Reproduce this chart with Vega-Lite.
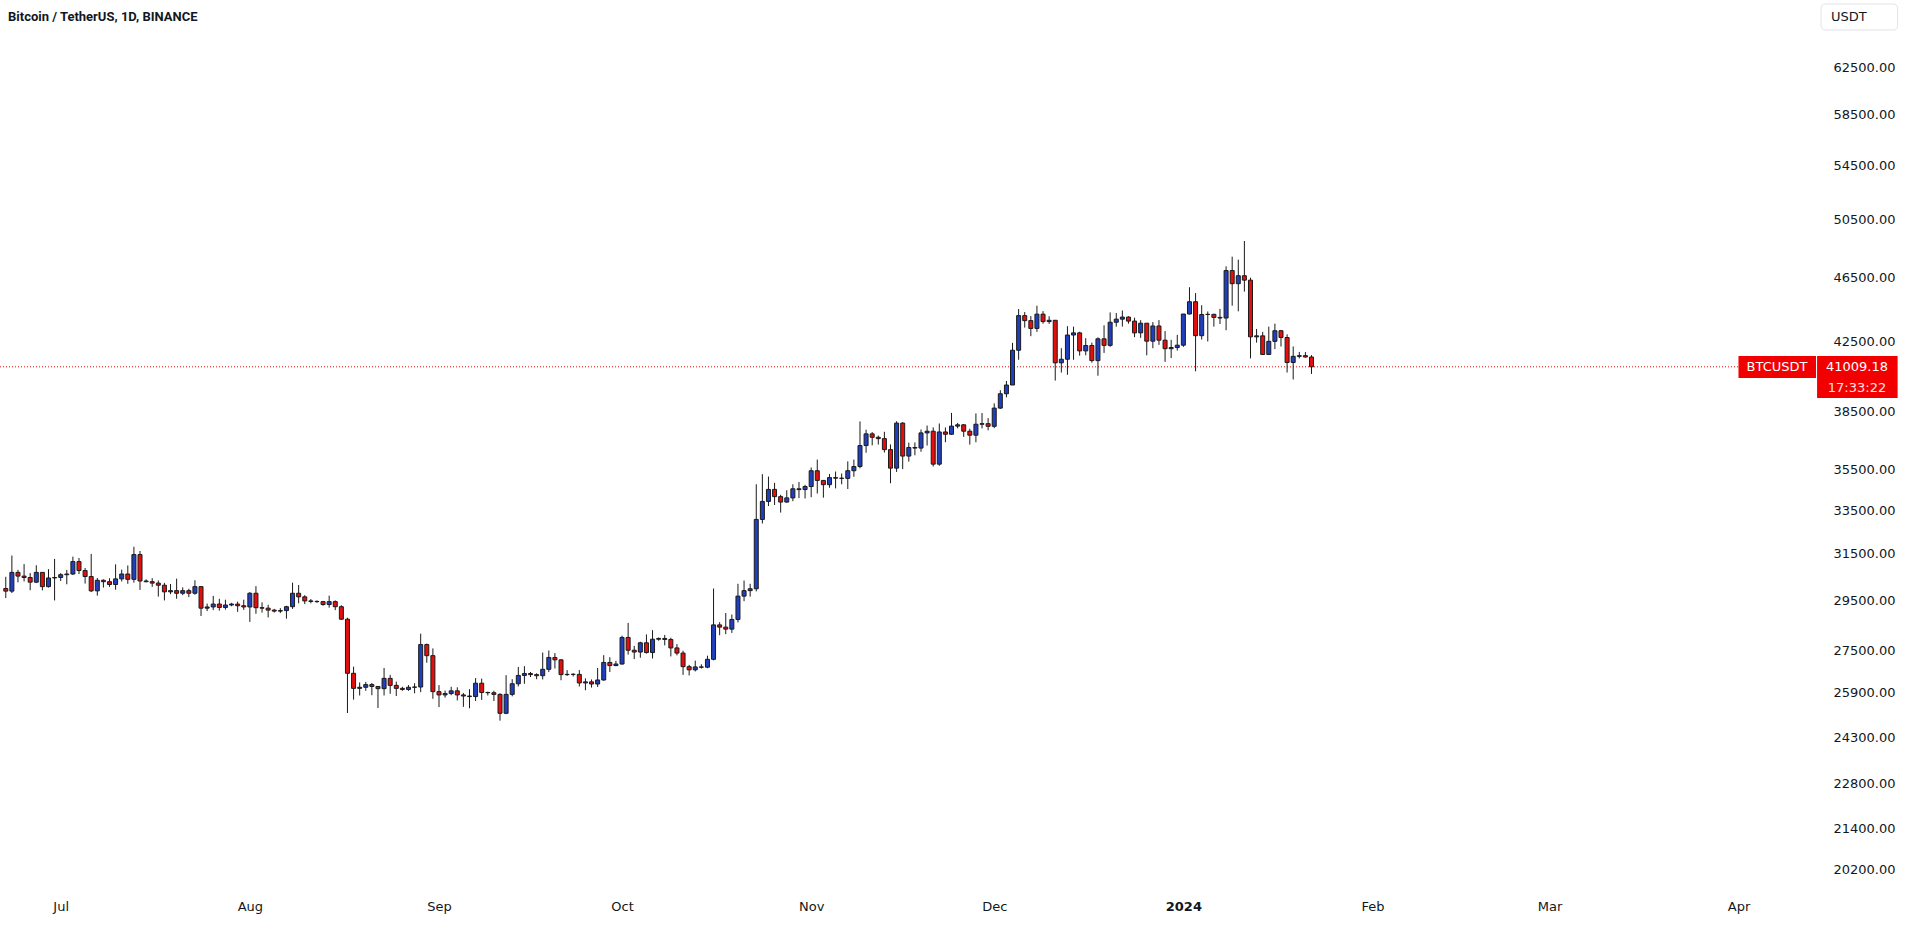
{
  "$schema": "https://vega.github.io/schema/vega-lite/v6.json",
  "width": 1825,
  "height": 886,
  "autosize": {"type": "none"},
  "padding": {"left": 0, "top": 0, "right": 83, "bottom": 40},
  "background": "#ffffff",
  "config": {"view": {"stroke": null}, "font": "DejaVu Sans"},
  "title": {"text": "Bitcoin / TetherUS, 1D, BINANCE", "anchor": "start", "frame": "group", "offset": -24, "dx": 8, "fontSize": 13, "fontWeight": "bold", "color": "#131722", "font": "Roboto"},
  "datasets": {
    "candles": [
      {"t":"2023-06-22","o":30000,"h":30500,"l":29600,"c":29890},
      {"t":"2023-06-23","o":29890,"h":31430,"l":29810,"c":30690},
      {"t":"2023-06-24","o":30690,"h":30800,"l":30260,"c":30530},
      {"t":"2023-06-25","o":30530,"h":31050,"l":30300,"c":30470},
      {"t":"2023-06-26","o":30470,"h":30660,"l":29930,"c":30270},
      {"t":"2023-06-27","o":30270,"h":31000,"l":30230,"c":30690},
      {"t":"2023-06-28","o":30690,"h":30700,"l":29920,"c":30080},
      {"t":"2023-06-29","o":30080,"h":30830,"l":30040,"c":30450},
      {"t":"2023-06-30","o":30450,"h":31280,"l":29500,"c":30470},
      {"t":"2023-07-01","o":30470,"h":30660,"l":30320,"c":30590},
      {"t":"2023-07-02","o":30590,"h":30800,"l":30180,"c":30620},
      {"t":"2023-07-03","o":30620,"h":31380,"l":30580,"c":31160},
      {"t":"2023-07-04","o":31160,"h":31320,"l":30620,"c":30770},
      {"t":"2023-07-05","o":30770,"h":30880,"l":30210,"c":30510},
      {"t":"2023-07-06","o":30510,"h":31500,"l":29850,"c":29900},
      {"t":"2023-07-07","o":29900,"h":30450,"l":29700,"c":30350},
      {"t":"2023-07-08","o":30350,"h":30390,"l":30040,"c":30290},
      {"t":"2023-07-09","o":30290,"h":30440,"l":30070,"c":30170},
      {"t":"2023-07-10","o":30170,"h":31040,"l":29950,"c":30410},
      {"t":"2023-07-11","o":30410,"h":30810,"l":30300,"c":30620},
      {"t":"2023-07-12","o":30620,"h":30990,"l":30200,"c":30390},
      {"t":"2023-07-13","o":30390,"h":31820,"l":30250,"c":31470},
      {"t":"2023-07-14","o":31470,"h":31630,"l":29940,"c":30320},
      {"t":"2023-07-15","o":30320,"h":30390,"l":30260,"c":30290},
      {"t":"2023-07-16","o":30290,"h":30440,"l":30070,"c":30230},
      {"t":"2023-07-17","o":30230,"h":30340,"l":29660,"c":30140},
      {"t":"2023-07-18","o":30140,"h":30240,"l":29500,"c":29860},
      {"t":"2023-07-19","o":29860,"h":30190,"l":29760,"c":29910},
      {"t":"2023-07-20","o":29910,"h":30420,"l":29570,"c":29800},
      {"t":"2023-07-21","o":29800,"h":30050,"l":29720,"c":29910},
      {"t":"2023-07-22","o":29910,"h":29990,"l":29640,"c":29800},
      {"t":"2023-07-23","o":29800,"h":30350,"l":29740,"c":30080},
      {"t":"2023-07-24","o":30080,"h":30100,"l":28860,"c":29180},
      {"t":"2023-07-25","o":29180,"h":29370,"l":29060,"c":29230},
      {"t":"2023-07-26","o":29230,"h":29690,"l":29100,"c":29350},
      {"t":"2023-07-27","o":29350,"h":29570,"l":29080,"c":29210},
      {"t":"2023-07-28","o":29210,"h":29530,"l":29120,"c":29310},
      {"t":"2023-07-29","o":29310,"h":29400,"l":29260,"c":29350},
      {"t":"2023-07-30","o":29350,"h":29450,"l":29030,"c":29280},
      {"t":"2023-07-31","o":29280,"h":29530,"l":29110,"c":29230},
      {"t":"2023-08-01","o":29230,"h":29850,"l":28620,"c":29800},
      {"t":"2023-08-02","o":29800,"h":30100,"l":28950,"c":29200},
      {"t":"2023-08-03","o":29200,"h":29420,"l":29000,"c":29180},
      {"t":"2023-08-04","o":29180,"h":29320,"l":28800,"c":29100},
      {"t":"2023-08-05","o":29100,"h":29150,"l":29000,"c":29060},
      {"t":"2023-08-06","o":29060,"h":29180,"l":28980,"c":29080},
      {"t":"2023-08-07","o":29080,"h":29280,"l":28750,"c":29240},
      {"t":"2023-08-08","o":29240,"h":30250,"l":29150,"c":29800},
      {"t":"2023-08-09","o":29800,"h":30150,"l":29380,"c":29650},
      {"t":"2023-08-10","o":29650,"h":29720,"l":29350,"c":29480},
      {"t":"2023-08-11","o":29480,"h":29560,"l":29380,"c":29460},
      {"t":"2023-08-12","o":29460,"h":29500,"l":29400,"c":29450},
      {"t":"2023-08-13","o":29450,"h":29480,"l":29280,"c":29330},
      {"t":"2023-08-14","o":29330,"h":29700,"l":29200,"c":29450},
      {"t":"2023-08-15","o":29450,"h":29500,"l":29100,"c":29240},
      {"t":"2023-08-16","o":29240,"h":29300,"l":28700,"c":28730},
      {"t":"2023-08-17","o":28730,"h":28790,"l":25170,"c":26620},
      {"t":"2023-08-18","o":26620,"h":26870,"l":25650,"c":26060},
      {"t":"2023-08-19","o":26060,"h":26280,"l":25800,"c":26100},
      {"t":"2023-08-20","o":26100,"h":26300,"l":25970,"c":26200},
      {"t":"2023-08-21","o":26200,"h":26260,"l":25810,"c":26130},
      {"t":"2023-08-22","o":26130,"h":26140,"l":25350,"c":26050},
      {"t":"2023-08-23","o":26050,"h":26820,"l":25800,"c":26430},
      {"t":"2023-08-24","o":26430,"h":26560,"l":25860,"c":26170},
      {"t":"2023-08-25","o":26170,"h":26310,"l":25780,"c":26060},
      {"t":"2023-08-26","o":26060,"h":26120,"l":25970,"c":26020},
      {"t":"2023-08-27","o":26020,"h":26180,"l":25970,"c":26100},
      {"t":"2023-08-28","o":26100,"h":26250,"l":25880,"c":26110},
      {"t":"2023-08-29","o":26110,"h":28150,"l":25920,"c":27720},
      {"t":"2023-08-30","o":27720,"h":27760,"l":27020,"c":27290},
      {"t":"2023-08-31","o":27290,"h":27570,"l":25680,"c":25940},
      {"t":"2023-09-01","o":25940,"h":26180,"l":25380,"c":25820},
      {"t":"2023-09-02","o":25820,"h":25980,"l":25720,"c":25870},
      {"t":"2023-09-03","o":25870,"h":26120,"l":25810,"c":25970},
      {"t":"2023-09-04","o":25970,"h":26100,"l":25620,"c":25820},
      {"t":"2023-09-05","o":25820,"h":25890,"l":25390,"c":25780},
      {"t":"2023-09-06","o":25780,"h":26030,"l":25340,"c":25760},
      {"t":"2023-09-07","o":25760,"h":26440,"l":25600,"c":26250},
      {"t":"2023-09-08","o":26250,"h":26420,"l":25640,"c":25910},
      {"t":"2023-09-09","o":25910,"h":25940,"l":25800,"c":25900},
      {"t":"2023-09-10","o":25900,"h":25970,"l":25600,"c":25840},
      {"t":"2023-09-11","o":25840,"h":25880,"l":24900,"c":25160},
      {"t":"2023-09-12","o":25160,"h":26550,"l":25130,"c":25840},
      {"t":"2023-09-13","o":25840,"h":26400,"l":25770,"c":26230},
      {"t":"2023-09-14","o":26230,"h":26860,"l":26130,"c":26540},
      {"t":"2023-09-15","o":26540,"h":26890,"l":26230,"c":26610},
      {"t":"2023-09-16","o":26610,"h":26670,"l":26480,"c":26570},
      {"t":"2023-09-17","o":26570,"h":26620,"l":26400,"c":26530},
      {"t":"2023-09-18","o":26530,"h":27410,"l":26390,"c":26770},
      {"t":"2023-09-19","o":26770,"h":27490,"l":26670,"c":27220},
      {"t":"2023-09-20","o":27220,"h":27390,"l":26800,"c":27130},
      {"t":"2023-09-21","o":27130,"h":27160,"l":26360,"c":26570},
      {"t":"2023-09-22","o":26570,"h":26740,"l":26520,"c":26580},
      {"t":"2023-09-23","o":26580,"h":26620,"l":26500,"c":26580},
      {"t":"2023-09-24","o":26580,"h":26740,"l":26130,"c":26260},
      {"t":"2023-09-25","o":26260,"h":26430,"l":25990,"c":26300},
      {"t":"2023-09-26","o":26300,"h":26390,"l":26090,"c":26220},
      {"t":"2023-09-27","o":26220,"h":26820,"l":26110,"c":26370},
      {"t":"2023-09-28","o":26370,"h":27310,"l":26340,"c":27030},
      {"t":"2023-09-29","o":27030,"h":27230,"l":26670,"c":26910},
      {"t":"2023-09-30","o":26910,"h":27090,"l":26890,"c":26970},
      {"t":"2023-10-01","o":26970,"h":28070,"l":26950,"c":28000},
      {"t":"2023-10-02","o":28000,"h":28580,"l":27330,"c":27500},
      {"t":"2023-10-03","o":27500,"h":27670,"l":27160,"c":27430},
      {"t":"2023-10-04","o":27430,"h":27830,"l":27210,"c":27790},
      {"t":"2023-10-05","o":27790,"h":28120,"l":27370,"c":27410},
      {"t":"2023-10-06","o":27410,"h":28290,"l":27180,"c":27930},
      {"t":"2023-10-07","o":27930,"h":28000,"l":27870,"c":27960},
      {"t":"2023-10-08","o":27960,"h":28100,"l":27690,"c":27920},
      {"t":"2023-10-09","o":27920,"h":27990,"l":27260,"c":27590},
      {"t":"2023-10-10","o":27590,"h":27740,"l":27300,"c":27390},
      {"t":"2023-10-11","o":27390,"h":27480,"l":26560,"c":26870},
      {"t":"2023-10-12","o":26870,"h":26940,"l":26540,"c":26750},
      {"t":"2023-10-13","o":26750,"h":27100,"l":26690,"c":26860},
      {"t":"2023-10-14","o":26860,"h":26960,"l":26800,"c":26850},
      {"t":"2023-10-15","o":26850,"h":27290,"l":26810,"c":27150},
      {"t":"2023-10-16","o":27150,"h":30000,"l":27110,"c":28500},
      {"t":"2023-10-17","o":28500,"h":28610,"l":28090,"c":28410},
      {"t":"2023-10-18","o":28410,"h":28980,"l":28130,"c":28330},
      {"t":"2023-10-19","o":28330,"h":28920,"l":28180,"c":28720},
      {"t":"2023-10-20","o":28720,"h":30200,"l":28600,"c":29680},
      {"t":"2023-10-21","o":29680,"h":30340,"l":29470,"c":29910},
      {"t":"2023-10-22","o":29910,"h":30200,"l":29660,"c":29990},
      {"t":"2023-10-23","o":29990,"h":34750,"l":29880,"c":33070},
      {"t":"2023-10-24","o":33070,"h":35250,"l":32880,"c":33920},
      {"t":"2023-10-25","o":33920,"h":35130,"l":33700,"c":34500},
      {"t":"2023-10-26","o":34500,"h":34820,"l":33750,"c":34150},
      {"t":"2023-10-27","o":34150,"h":34240,"l":33390,"c":33890},
      {"t":"2023-10-28","o":33890,"h":34460,"l":33860,"c":34090},
      {"t":"2023-10-29","o":34090,"h":34750,"l":33930,"c":34530},
      {"t":"2023-10-30","o":34530,"h":34860,"l":34080,"c":34490},
      {"t":"2023-10-31","o":34490,"h":34720,"l":34060,"c":34640},
      {"t":"2023-11-01","o":34640,"h":35580,"l":34120,"c":35420},
      {"t":"2023-11-02","o":35420,"h":35980,"l":34300,"c":34940},
      {"t":"2023-11-03","o":34940,"h":34950,"l":34100,"c":34730},
      {"t":"2023-11-04","o":34730,"h":35260,"l":34580,"c":35080},
      {"t":"2023-11-05","o":35080,"h":35380,"l":34550,"c":35050},
      {"t":"2023-11-06","o":35050,"h":35280,"l":34750,"c":35040},
      {"t":"2023-11-07","o":35040,"h":35890,"l":34520,"c":35420},
      {"t":"2023-11-08","o":35420,"h":35980,"l":35120,"c":35630},
      {"t":"2023-11-09","o":35630,"h":37970,"l":35540,"c":36700},
      {"t":"2023-11-10","o":36700,"h":37530,"l":36330,"c":37310},
      {"t":"2023-11-11","o":37310,"h":37400,"l":36710,"c":37130},
      {"t":"2023-11-12","o":37130,"h":37220,"l":36750,"c":37060},
      {"t":"2023-11-13","o":37060,"h":37420,"l":36340,"c":36490},
      {"t":"2023-11-14","o":36490,"h":36760,"l":34800,"c":35550},
      {"t":"2023-11-15","o":35550,"h":37980,"l":35360,"c":37880},
      {"t":"2023-11-16","o":37880,"h":37930,"l":35500,"c":36160},
      {"t":"2023-11-17","o":36160,"h":36850,"l":35880,"c":36600},
      {"t":"2023-11-18","o":36600,"h":36860,"l":36200,"c":36570},
      {"t":"2023-11-19","o":36570,"h":37540,"l":36380,"c":37360},
      {"t":"2023-11-20","o":37360,"h":37750,"l":36700,"c":37450},
      {"t":"2023-11-21","o":37450,"h":37650,"l":35630,"c":35750},
      {"t":"2023-11-22","o":35750,"h":37860,"l":35670,"c":37410},
      {"t":"2023-11-23","o":37410,"h":37650,"l":36870,"c":37290},
      {"t":"2023-11-24","o":37290,"h":38430,"l":37250,"c":37720},
      {"t":"2023-11-25","o":37720,"h":37890,"l":37600,"c":37790},
      {"t":"2023-11-26","o":37790,"h":37830,"l":37150,"c":37450},
      {"t":"2023-11-27","o":37450,"h":37580,"l":36750,"c":37240},
      {"t":"2023-11-28","o":37240,"h":38400,"l":36870,"c":37820},
      {"t":"2023-11-29","o":37820,"h":38420,"l":37600,"c":37850},
      {"t":"2023-11-30","o":37850,"h":38150,"l":37500,"c":37710},
      {"t":"2023-12-01","o":37710,"h":38950,"l":37610,"c":38690},
      {"t":"2023-12-02","o":38690,"h":39680,"l":38650,"c":39480},
      {"t":"2023-12-03","o":39480,"h":40200,"l":39280,"c":39970},
      {"t":"2023-12-04","o":39970,"h":42420,"l":39970,"c":41980},
      {"t":"2023-12-05","o":41980,"h":44490,"l":41420,"c":44080},
      {"t":"2023-12-06","o":44080,"h":44300,"l":43340,"c":43770},
      {"t":"2023-12-07","o":43770,"h":44050,"l":42820,"c":43290},
      {"t":"2023-12-08","o":43290,"h":44700,"l":43080,"c":44170},
      {"t":"2023-12-09","o":44170,"h":44360,"l":43580,"c":43710},
      {"t":"2023-12-10","o":43710,"h":44040,"l":43570,"c":43790},
      {"t":"2023-12-11","o":43790,"h":43810,"l":40220,"c":41240},
      {"t":"2023-12-12","o":41240,"h":42100,"l":40680,"c":41450},
      {"t":"2023-12-13","o":41450,"h":43430,"l":40550,"c":42890},
      {"t":"2023-12-14","o":42890,"h":43400,"l":41420,"c":43020},
      {"t":"2023-12-15","o":43020,"h":43090,"l":41660,"c":41940},
      {"t":"2023-12-16","o":41940,"h":42700,"l":41680,"c":42260},
      {"t":"2023-12-17","o":42260,"h":42430,"l":41250,"c":41370},
      {"t":"2023-12-18","o":41370,"h":42750,"l":40500,"c":42660},
      {"t":"2023-12-19","o":42660,"h":43480,"l":41820,"c":42270},
      {"t":"2023-12-20","o":42270,"h":44280,"l":42180,"c":43670},
      {"t":"2023-12-21","o":43670,"h":44240,"l":43400,"c":43860},
      {"t":"2023-12-22","o":43860,"h":44400,"l":43400,"c":43990},
      {"t":"2023-12-23","o":43990,"h":44040,"l":43580,"c":43740},
      {"t":"2023-12-24","o":43740,"h":43950,"l":42760,"c":43020},
      {"t":"2023-12-25","o":43020,"h":43800,"l":42720,"c":43610},
      {"t":"2023-12-26","o":43610,"h":43610,"l":41680,"c":42520},
      {"t":"2023-12-27","o":42520,"h":43680,"l":42100,"c":43440},
      {"t":"2023-12-28","o":43440,"h":43800,"l":42300,"c":42580},
      {"t":"2023-12-29","o":42580,"h":43130,"l":41300,"c":42070},
      {"t":"2023-12-30","o":42070,"h":42600,"l":41520,"c":42140},
      {"t":"2023-12-31","o":42140,"h":42900,"l":41960,"c":42280},
      {"t":"2024-01-01","o":42280,"h":44180,"l":42180,"c":44180},
      {"t":"2024-01-02","o":44180,"h":45880,"l":44150,"c":44950},
      {"t":"2024-01-03","o":44950,"h":45500,"l":40750,"c":42850},
      {"t":"2024-01-04","o":42850,"h":44730,"l":42620,"c":44150},
      {"t":"2024-01-05","o":44150,"h":44340,"l":42500,"c":44160},
      {"t":"2024-01-06","o":44160,"h":44190,"l":43400,"c":43970},
      {"t":"2024-01-07","o":43970,"h":44500,"l":43560,"c":43930},
      {"t":"2024-01-08","o":43930,"h":47250,"l":43180,"c":46970},
      {"t":"2024-01-09","o":46970,"h":47900,"l":44700,"c":46110},
      {"t":"2024-01-10","o":46110,"h":47700,"l":44350,"c":46630},
      {"t":"2024-01-11","o":46630,"h":48970,"l":45600,"c":46340},
      {"t":"2024-01-12","o":46340,"h":46500,"l":41500,"c":42780},
      {"t":"2024-01-13","o":42780,"h":43260,"l":42430,"c":42840},
      {"t":"2024-01-14","o":42840,"h":43080,"l":41720,"c":41730},
      {"t":"2024-01-15","o":41730,"h":43400,"l":41720,"c":42510},
      {"t":"2024-01-16","o":42510,"h":43580,"l":42050,"c":43150},
      {"t":"2024-01-17","o":43150,"h":43200,"l":42200,"c":42740},
      {"t":"2024-01-18","o":42740,"h":42930,"l":40680,"c":41260},
      {"t":"2024-01-19","o":41260,"h":42200,"l":40280,"c":41620},
      {"t":"2024-01-20","o":41620,"h":41880,"l":41500,"c":41660},
      {"t":"2024-01-21","o":41660,"h":41870,"l":41550,"c":41580},
      {"t":"2024-01-22","o":41580,"h":41690,"l":40600,"c":41009.18}
    ]
  },
  "data": {"name": "candles"},
  "layer": [
    {
      "data": {"values": [{"price": 41009.18}]},
      "mark": {"type": "rule", "color": "#f20000", "strokeDash": [1, 2], "strokeWidth": 1},
      "encoding": {
        "y": {"field": "price", "type": "quantitative",
          "scale": {"type": "log", "domain": [19722, 68788], "nice": false, "zero": false},
          "axis": {"orient": "right", "title": null, "values": [20200, 21400, 22800, 24300, 25900, 27500, 29500, 31500, 33500, 35500, 38500, 42500, 46500, 50500, 54500, 58500, 62500],
            "format": ".2f", "domain": false, "ticks": false, "grid": false, "labelPadding": 8, "labelFontSize": 13, "labelColor": "#131722", "labelFont": "DejaVu Sans", "labelOverlap": false, "labelBound": false}}
      }
    },
    {
      "mark": {"type": "rule", "color": "#1a1a1a", "strokeWidth": 1},
      "encoding": {
        "x": {"field": "t", "type": "temporal",
          "scale": {"type": "utc", "domain": [1687380940800, 1713082176000], "nice": false},
          "axis": {"title": null, "values": [1688169600000, 1690848000000, 1693526400000, 1696118400000, 1698796800000, 1701388800000, 1704067200000, 1706745600000, 1709251200000, 1711929600000],
            "labelExpr": "utcFormat(datum.value, utcmonth(datum.value) == 0 ? '%Y' : '%b')",
            "labelFontWeight": {"condition": {"test": "utcmonth(datum.value) == 0", "value": "bold"}, "value": "normal"},
            "domain": false, "ticks": false, "grid": false, "labelPadding": 14, "labelFontSize": 13, "labelColor": "#131722", "labelFont": "DejaVu Sans", "labelOverlap": false, "labelFlush": false, "labelBound": false}},
        "y": {"field": "l", "type": "quantitative"},
        "y2": {"field": "h"}
      }
    },
    {
      "mark": {"type": "bar", "size": 4, "stroke": "#1a1a1a", "strokeWidth": 1},
      "encoding": {
        "x": {"field": "t", "type": "temporal"},
        "y": {"field": "o", "type": "quantitative"},
        "y2": {"field": "c"},
        "color": {"condition": {"test": "datum.c >= datum.o", "value": "#1f3fbf"}, "value": "#e50e0e"}
      }
    },
    {
      "data": {"values": [{"label": "BTCUSDT"}]},
      "mark": {"type": "rect", "fill": "#f20000"},
      "encoding": {
        "x": {"datum": 1711927872000, "type": "temporal"},
        "x2": {"datum": 1713026016000},
        "y": {"datum": 41640, "type": "quantitative"},
        "y2": {"datum": 40370}
      }
    },
    {
      "data": {"values": [{"label": "price"}]},
      "mark": {"type": "rect", "fill": "#f20000"},
      "encoding": {
        "x": {"datum": 1713040704000, "type": "temporal"},
        "x2": {"datum": 1714181184000},
        "y": {"datum": 41640, "type": "quantitative"},
        "y2": {"datum": 39240}
      }
    },
    {
      "data": {"values": [{"label": "USDT"}]},
      "mark": {"type": "rect", "fill": "transparent", "stroke": "#e0e3eb", "strokeWidth": 1, "cornerRadius": 4},
      "encoding": {
        "x": {"datum": 1713096864000, "type": "temporal"},
        "x2": {"datum": 1714181184000},
        "y": {"datum": 68401, "type": "quantitative"},
        "y2": {"datum": 65940}
      }
    },
    {
      "data": {"values": [{"label": "BTCUSDT", "t": 1712473920000, "p": 41009.18, "w": "bold", "col": "#ffffff"}, {"label": "41009.18", "t": 1713605760000, "p": 41009.18, "w": "bold", "col": "#ffffff"}, {"label": "17:33:22", "t": 1713605760000, "p": 39800, "w": "normal", "col": "#ffe0e0"}, {"label": "USDT", "t": 1713490848000, "p": 67158, "w": "normal", "col": "#131722"}]},
      "mark": {"type": "text", "fontSize": 13, "font": "DejaVu Sans", "align": "center", "baseline": "middle"},
      "encoding": {
        "x": {"field": "t", "type": "temporal"},
        "y": {"field": "p", "type": "quantitative"},
        "text": {"field": "label"},
        "color": {"field": "col", "type": "nominal", "scale": null},
        "fontWeight": {"field": "w", "type": "nominal", "scale": null}
      }
    }
  ]
}
